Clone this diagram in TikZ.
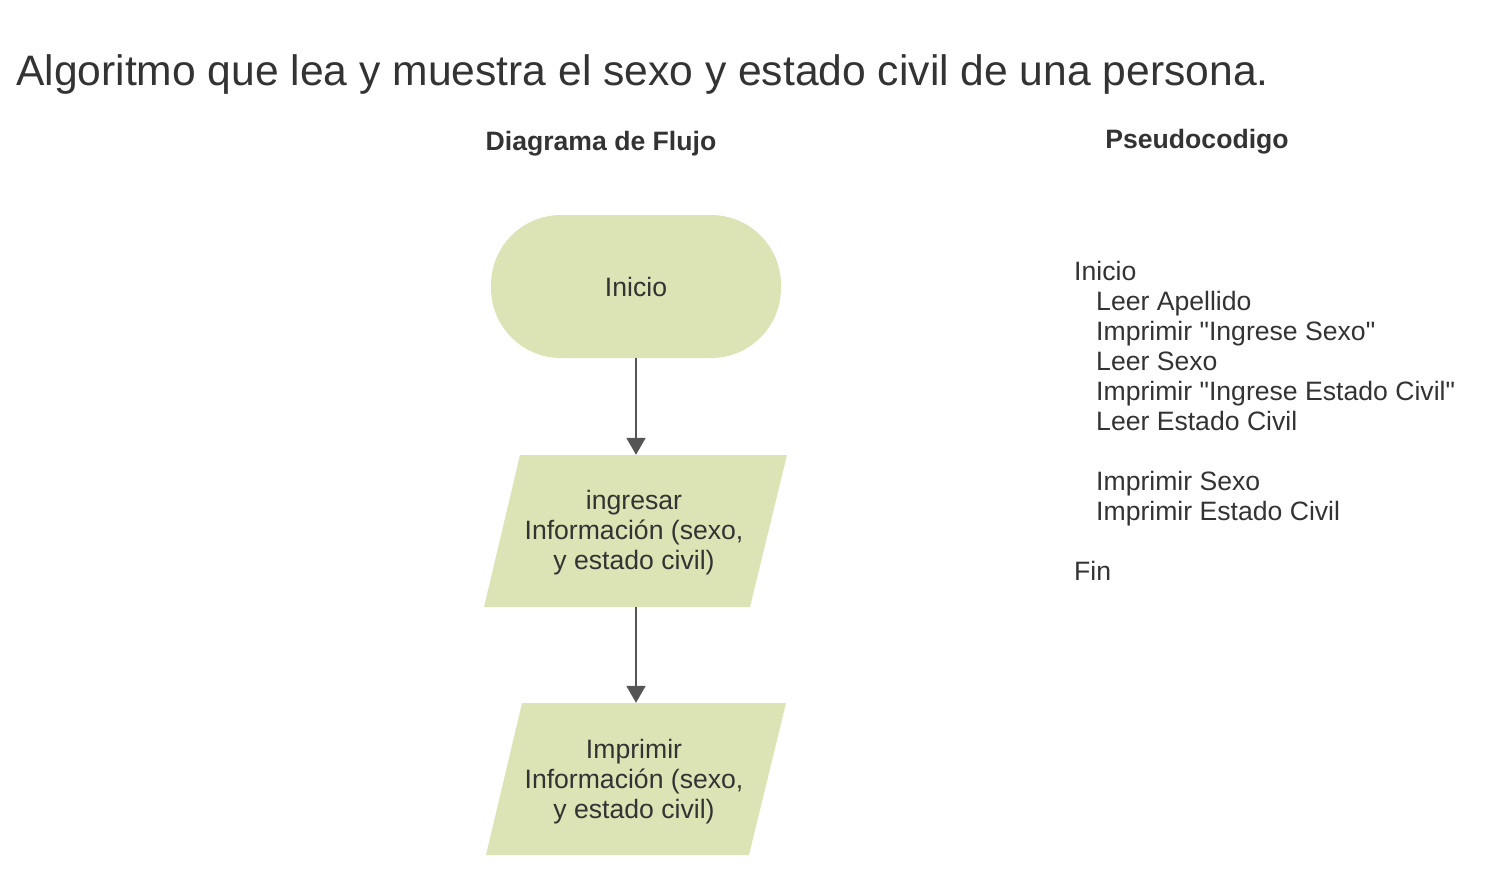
\documentclass[tikz,border=0pt]{standalone}
\usepackage{fontspec}
\setmainfont{Liberation Sans}[Ligatures=TeXOff]
\usetikzlibrary{arrows.meta,calc}
\definecolor{txt}{HTML}{333333}
\definecolor{shapefill}{HTML}{DCE3B5}
\definecolor{arr}{HTML}{555555}
\tikzset{
  body/.style={font=\fontsize{26.6}{30}\selectfont, text=txt},
  titletext/.style={font=\fontsize{42.6}{48}\selectfont, text=txt, anchor=base west, inner sep=0},
  headtext/.style={font=\fontsize{26.6}{30}\selectfont\bfseries, text=txt, anchor=base, inner sep=0},
  pline/.style={body, anchor=base west, inner sep=0},
  terminal/.style={body, fill=shapefill, rounded corners=70pt, minimum width=290pt, minimum height=143pt, inner sep=0},
  iobox/.style={minimum width=230pt, minimum height=152pt, inner sep=0},
  iotext/.style={body, align=center, inner sep=0},
  iofill/.style={fill=shapefill},
  flow/.style={draw=arr, line width=2pt, -{Triangle[width=19pt,length=17pt]}}
}
\begin{document}
\begin{tikzpicture}[x=1pt,y=-1pt]
\useasboundingbox (0,0) rectangle (1494,884);
\node[titletext] (title) at (16,85) {Algoritmo que lea y muestra el sexo y estado civil de una persona.};
\node[headtext] (h1) at (601,150) {Diagrama de Flujo};
\node[headtext] (h2) at (1197,148) {Pseudocodigo};

\node[terminal] (st) at (636,286.5) {Inicio};

\path[iofill] (520,455) -- (787,455) -- (750,607) -- (484,607) -- cycle;
\node[iobox] (in) at (636,531) {};
\node[iotext] (intext) at (634,533) {ingresar\\Información (sexo,\\y estado civil)};

\path[iofill] (522,703) -- (786,703) -- (749,855) -- (486,855) -- cycle;
\node[iobox] (out) at (636,779) {};
\node[iotext] (outtext) at (634,781.5) {Imprimir\\Información (sexo,\\y estado civil)};

\draw[flow] (st.south) -- (in.north);
\draw[flow] (in.south) -- (out.north);

\node[pline] (p0) at (1074,280) {Inicio};
\node[pline] (p1) at (1096,310) {Leer Apellido};
\node[pline] (p2) at (1096,340) {Imprimir "Ingrese Sexo"};
\node[pline] (p3) at (1096,370) {Leer Sexo};
\node[pline] (p4) at (1096,400) {Imprimir "Ingrese Estado Civil"};
\node[pline] (p5) at (1096,430) {Leer Estado Civil};
\node[pline] (p6) at (1096,490) {Imprimir Sexo};
\node[pline] (p7) at (1096,520) {Imprimir Estado Civil};
\node[pline] (p8) at (1074,580) {Fin};
\end{tikzpicture}
\end{document}
